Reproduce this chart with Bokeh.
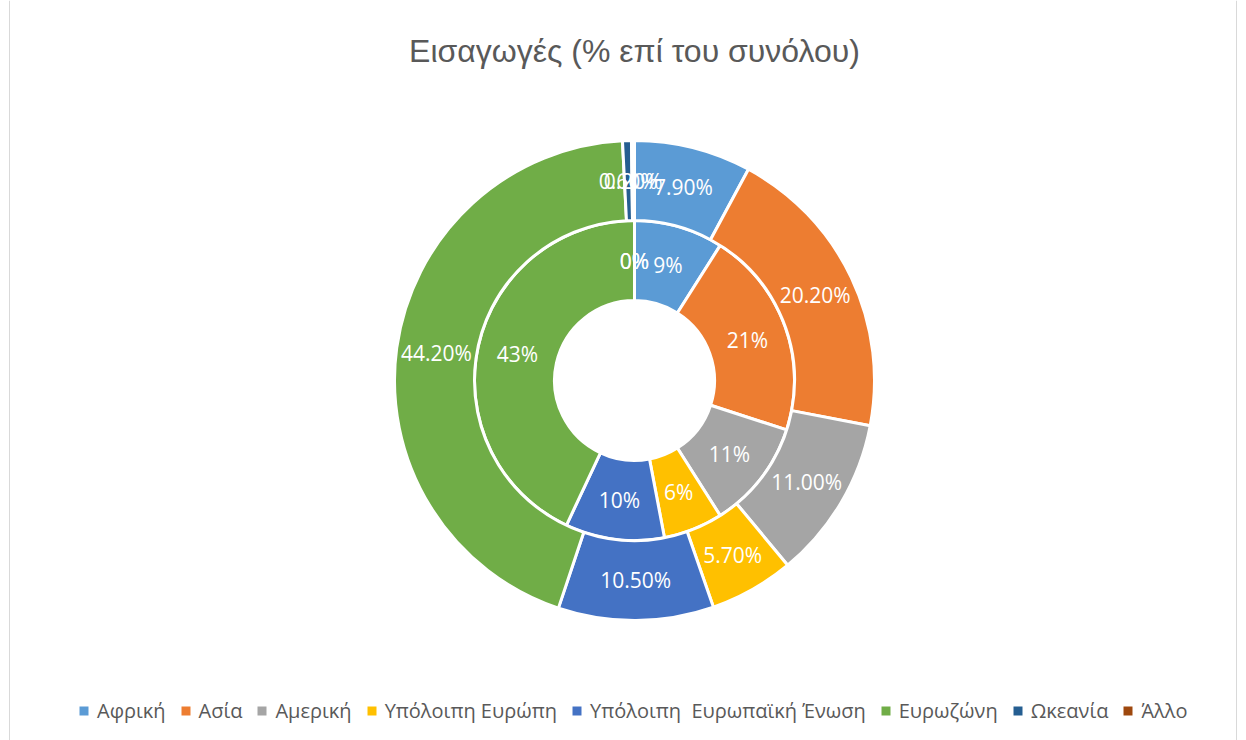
import math
from bokeh.plotting import figure
from bokeh.models import Range1d, Legend, LegendItem, Label, Span, ColumnDataSource
from bokeh.embed import file_html
from bokeh.resources import INLINE
from bokeh.core.properties import value

title_text = "Εισαγωγές (% επί του συνόλου)"
categories = ["Αφρική", "Ασία", "Αμερική", "Υπόλοιπη Ευρώπη",
              "Υπόλοιπη  Ευρωπαϊκή Ένωση", "Ευρωζώνη", "Ωκεανία", "Άλλο"]
outer_values = [7.9, 20.2, 11.0, 5.7, 10.5, 44.2, 0.6, 0.2]
outer_labels = ["7.90%", "20.20%", "11.00%", "5.70%", "10.50%", "44.20%", "0.60%", "0.20%"]
inner_values = [9, 21, 11, 6, 10, 43, 0, 0]
inner_labels = ["9%", "21%", "11%", "6%", "10%", "43%", "0%", "0%"]
colors = ["#5B9BD5", "#ED7D31", "#A5A5A5", "#FFC000", "#4472C4", "#70AD47", "#255E91", "#9E480E"]

W, H = 1246, 740
CX, CY = 634, H - 380
R_HOLE, R_MID, R_OUT = 80, 160, 240

p = figure(width=W, height=H, output_backend="svg", toolbar_location=None,
           x_range=Range1d(0, W), y_range=Range1d(0, H), min_border=0,
           x_axis_type=None, y_axis_type=None)
p.grid.visible = False
p.outline_line_color = None
p.background_fill_color = "white"
p.border_fill_color = "white"


def ring(vals, labels, r0, r1):
    total = float(sum(vals))
    cum = 0.0
    d = dict(start=[], end=[], color=[])
    lab = dict(x=[], y=[], text=[])
    for v, l, c in zip(vals, labels, colors):
        a0 = math.pi / 2 - 2 * math.pi * cum / total
        a1 = math.pi / 2 - 2 * math.pi * (cum + v) / total
        mid = (a0 + a1) / 2
        rm = (r0 + r1) / 2
        lab["x"].append(CX + rm * math.cos(mid))
        lab["y"].append(CY + rm * math.sin(mid))
        lab["text"].append(l)
        if v > 0:
            d["start"].append(a0)
            d["end"].append(a1)
            d["color"].append(c)
        cum += v
    src = ColumnDataSource(d)
    r = p.annular_wedge(x=CX, y=CY, inner_radius=r0, outer_radius=r1,
                        start_angle="start", end_angle="end", direction="clock",
                        fill_color="color", line_color="white", line_width=3, source=src)
    p.text(x="x", y="y", text="text", source=ColumnDataSource(lab),
           text_align="center", text_baseline="middle", text_color="white",
           text_font=value("Open Sans"), text_font_size="21px")
    return r


ring(inner_values, inner_labels, R_HOLE, R_MID)
outer_r = ring(outer_values, outer_labels, R_MID, R_OUT)

items = [LegendItem(label=cat, renderers=[outer_r], index=i) for i, cat in enumerate(categories)]

legend = Legend(items=items, orientation="horizontal", location=(76, 16),
                label_text_font="Open Sans", label_text_font_size="20px",
                label_text_color="#595959", glyph_width=15, glyph_height=15,
                label_standoff=6, spacing=12, padding=0, margin=0,
                border_line_color=None, background_fill_alpha=0)
p.add_layout(legend, "center")

p.add_layout(Label(x=CX, y=H - 50, text=title_text, text_align="center",
                   text_baseline="middle", text_font_size="32px",
                   text_color="#595959", text_font="Liberation Sans"))

p.add_layout(Span(location=9, dimension="height", line_color="#D9D9D9", line_width=1))
p.add_layout(Span(location=1236, dimension="height", line_color="#D9D9D9", line_width=1))

open("out.html", "w").write(file_html(p, INLINE))
